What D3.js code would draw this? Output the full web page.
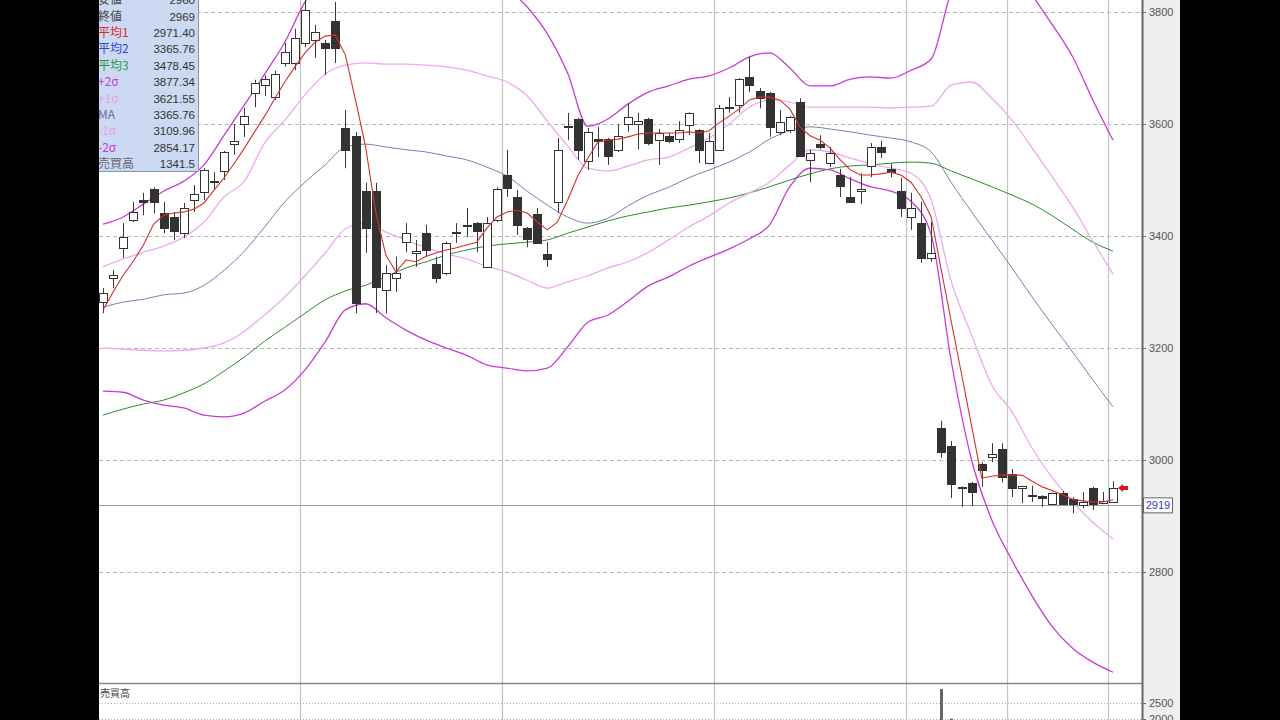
<!DOCTYPE html>
<html><head><meta charset="utf-8">
<script src="https://cdn.jsdelivr.net/npm/d3@7"></script>
<style>html,body{margin:0;padding:0;background:#000;}svg{display:block;}</style>
</head><body>
<svg id="c" width="1280" height="720"></svg>
<script>
// ---------- DATA ----------
const openP  = [3282,3325,3378,3429,3464,3484,3441,3434,3405,3464,3479,3498,3516,3564,3600,3655,3670,3648,3709,3709,3745,3750,3745,3784,3593,3578,3480,3480,3304,3325,3389,3370,3405,3350,3334,3407,3420,3423,3345,3429,3509,3470,3414,3439,3368,3461,3595,3609,3534,3573,3573,3554,3600,3600,3609,3571,3579,3573,3598,3589,3530,3554,3629,3634,3684,3659,3655,3586,3589,3639,3536,3564,3530,3509,3470,3480,3525,3559,3520,3480,3434,3423,3361,3057,3025,2952,2959,2993,3005,3020,2975,2950,2936,2936,2921,2941,2930,2920,2950,2923,2925];
const highP  = [3307,3339,3423,3461,3477,3487,3461,3443,3459,3491,3521,3514,3552,3600,3629,3679,3687,3695,3745,3770,3821,3777,3750,3818,3625,3586,3495,3495,3348,3363,3423,3393,3420,3363,3390,3423,3450,3425,3434,3487,3554,3482,3416,3450,3389,3575,3620,3611,3593,3595,3575,3600,3637,3620,3611,3591,3584,3605,3621,3591,3584,3634,3648,3682,3720,3664,3657,3625,3614,3646,3554,3580,3559,3520,3505,3512,3566,3570,3530,3504,3477,3461,3425,3070,3034,2953,2961,2996,3030,3030,2984,2954,2954,2937,2942,2945,2934,2943,2952,2943,2962];
const lowP   = [3262,3307,3361,3425,3437,3441,3405,3393,3396,3443,3464,3482,3500,3545,3577,3630,3650,3643,3702,3696,3737,3718,3688,3709,3521,3262,3370,3262,3262,3300,3371,3345,3363,3316,3330,3388,3398,3371,3343,3425,3470,3402,3380,3386,3345,3441,3571,3536,3518,3541,3527,3550,3586,3555,3562,3527,3566,3566,3580,3530,3528,3552,3620,3620,3657,3628,3577,3580,3584,3541,3496,3555,3523,3470,3460,3457,3505,3539,3505,3434,3411,3352,3354,3004,2932,2916,2918,2952,2996,2960,2934,2923,2925,2916,2920,2919,2905,2914,2911,2921,2925];
const closeP = [3298,3330,3398,3443,3461,3461,3414,3409,3450,3475,3518,3499,3550,3570,3614,3673,3680,3689,3729,3753,3804,3764,3736,3736,3554,3280,3414,3309,3334,3334,3405,3373,3375,3325,3388,3405,3419,3409,3423,3484,3486,3420,3395,3388,3359,3554,3596,3554,3586,3570,3543,3579,3612,3605,3566,3584,3570,3589,3620,3554,3570,3629,3630,3680,3670,3646,3595,3604,3612,3543,3548,3559,3548,3489,3461,3484,3559,3550,3514,3450,3450,3361,3370,3015,2958,2952,2943,2982,3011,2969,2950,2954,2938,2932,2941,2921,2921,2925,2921,2927,2950];

// 5-day average (平均1), one value per candle
const avg1 = [3268,3300,3330,3355,3384,3421,3437,3441,3443,3448,3459,3482,3504,3530,3557,3586,3614,3645,3675,3702,3727,3746,3757,3759,3723,3643,3559,3443,3366,3336,3357,3354,3364,3370,3375,3379,3384,3389,3414,3434,3443,3446,3441,3425,3411,3425,3464,3507,3539,3568,3571,3573,3577,3582,3584,3584,3584,3584,3586,3584,3588,3602,3614,3627,3643,3648,3648,3643,3627,3595,3579,3571,3557,3536,3518,3509,3509,3511,3514,3509,3496,3470,3434,3339,3246,3154,3061,2968,2971,2973,2973,2973,2962,2952,2945,2938,2930,2927,2925,2925,2929];

// bands & long averages, read every second candle
const bandIdx = d3.range(0, 101, 2);
const plus2  = [3421,3434,3457,3480,3498,3527,3580,3634,3689,3746,3818,3866,3907,3932,3946,3950,3943,3925,3902,3875,3843,3809,3761,3691,3596,3609,3636,3657,3668,3680,3686,3700,3720,3727,3700,3668,3668,3680,3684,3682,3696,3716,3836,3884,3902,3884,3830,3777,3720,3643,3571];
const plus1  = [3345,3359,3371,3382,3398,3425,3470,3498,3566,3607,3652,3689,3705,3709,3707,3707,3705,3702,3696,3686,3675,3650,3605,3561,3521,3516,3525,3536,3541,3557,3575,3600,3630,3643,3639,3630,3630,3630,3630,3629,3630,3632,3670,3675,3646,3607,3557,3505,3452,3391,3332];
const midMA  = [3273,3282,3287,3295,3298,3312,3339,3373,3416,3461,3496,3527,3559,3564,3559,3554,3550,3543,3536,3523,3507,3480,3455,3434,3423,3432,3454,3473,3487,3504,3518,3532,3550,3573,3588,3595,3591,3586,3580,3575,3568,3550,3495,3443,3393,3343,3291,3241,3193,3143,3095];
const minus1 = [3200,3198,3196,3195,3196,3200,3209,3230,3259,3291,3329,3370,3413,3423,3407,3393,3379,3368,3359,3346,3336,3321,3307,3318,3329,3343,3354,3371,3393,3416,3436,3459,3477,3496,3527,3554,3550,3539,3529,3521,3512,3464,3318,3223,3134,3086,3021,2968,2925,2889,2859];
const minus2 = [3123,3121,3107,3098,3093,3080,3077,3084,3105,3125,3161,3211,3268,3279,3254,3232,3214,3200,3187,3170,3164,3159,3164,3202,3246,3259,3284,3311,3327,3346,3362,3377,3395,3420,3488,3521,3518,3502,3488,3480,3462,3402,3175,3000,2893,2821,2757,2702,2664,2639,2621];
const avg3   = [3080,3091,3100,3107,3120,3136,3159,3184,3212,3237,3262,3286,3302,3312,3327,3343,3354,3366,3375,3382,3386,3389,3393,3405,3416,3427,3436,3443,3450,3455,3461,3468,3477,3488,3500,3511,3520,3525,3527,3530,3532,3530,3516,3502,3488,3473,3457,3436,3412,3389,3373];

// volume (only bars tall enough to show in the cut-off lower panel)
const volIdx = [83, 84];
const volVal = [2940, 2010];
const volTicks = [2500, 2000];

const priceTicks = [2800, 3000, 3200, 3400, 3600, 3800];
const sepIdx = [19.5, 39.5, 60.5, 79.5, 89.5, 99.5];
const refPrice = 2919;

const infoLabels = ["安値","終値","平均1","平均2","平均3","+2σ","+1σ","MA","-1σ","-2σ","売買高"];
const infoValues = ["2960","2969","2971.40","3365.76","3478.45","3877.34","3621.55","3365.76","3109.96","2854.17","1341.5"];
const infoColors = ["#444","#444","#e02828","#3048d0","#2a9a3a","#c83cd2","#e8a0e8","#6a6aa0","#e8a0e8","#c83cd2","#666"];

// ---------- LAYOUT ----------
const L = 99, R = 1142, T = 0, B = 683;
const svg = d3.select("#c");
const x = d3.scaleLinear().domain([0, 100]).range([103, 1113]);
const y = d3.scaleLinear().domain([2800, 3800]).range([572, 12]);
const yv = d3.scaleLinear().domain([2000, 2500]).range([719, 703]);

svg.append("rect").attr("width",1280).attr("height",720).attr("fill","#000");
svg.append("rect").attr("x",L).attr("y",0).attr("width",R-L).attr("height",720).attr("fill","#fff");
svg.append("rect").attr("x",R).attr("y",0).attr("width",1180-R).attr("height",720).attr("fill","#efefef");

const defs = svg.append("defs");
defs.append("clipPath").attr("id","mainClip").append("rect").attr("x",L).attr("y",T).attr("width",R-L).attr("height",B-T);
defs.append("clipPath").attr("id","volClip").append("rect").attr("x",L).attr("y",B+1).attr("width",R-L).attr("height",720-B);

// horizontal dashed grid
svg.append("g").selectAll("line").data(priceTicks).join("line")
  .attr("x1",L).attr("x2",R).attr("y1",d=>Math.round(y(d))+0.5).attr("y2",d=>Math.round(y(d))+0.5)
  .attr("stroke","#b8b8b8").attr("stroke-dasharray","4,3");
// vertical separators
svg.append("g").selectAll("line").data(sepIdx).join("line")
  .attr("x1",d=>Math.round(x(d))+0.5).attr("x2",d=>Math.round(x(d))+0.5).attr("y1",0).attr("y2",720)
  .attr("stroke","#c4c4c4").attr("stroke-width",1.2);

// reference price line
svg.append("line").attr("x1",L).attr("x2",R).attr("y1",Math.round(y(refPrice))+0.5).attr("y2",Math.round(y(refPrice))+0.5)
  .attr("stroke","#9a9a9a");

// lines
const main = svg.append("g").attr("clip-path","url(#mainClip)");
function bandLine(vals, color, w){
  const ln = d3.line().x((d,k)=>x(bandIdx[k])).y(d=>y(d)).curve(d3.curveMonotoneX);
  main.append("path").attr("d", ln(vals)).attr("fill","none").attr("stroke",color).attr("stroke-width",w);
}
bandLine(avg3, "#2e8b2e", 1);
bandLine(midMA, "#7c7cb0", 1);
bandLine(plus1, "#eeaaee", 1.3);
bandLine(minus1, "#eeaaee", 1.3);
bandLine(plus2, "#c63cd0", 1.3);
bandLine(minus2, "#c63cd0", 1.3);

// candles
const cg = main.append("g");
openP.forEach((o,i)=>{
  const cx = Math.round(x(i)) + 0.5;
  const c = closeP[i], h = highP[i], l = lowP[i];
  cg.append("line").attr("x1",cx).attr("x2",cx).attr("y1",y(h)).attr("y2",y(l)).attr("stroke","#3a3a3a");
  const top = Math.round(y(Math.max(o,c))), bot = Math.round(y(Math.min(o,c)));
  cg.append("rect").attr("x",cx-4).attr("y",top+0.5).attr("width",8).attr("height",Math.max(1,bot-top))
    .attr("fill", c >= o ? "#fff" : "#333").attr("stroke","#333").attr("stroke-width",1);
});

// 平均1 red line
main.append("path").attr("d", d3.line().x((d,i)=>x(i)).y(d=>y(d))(avg1))
  .attr("fill","none").attr("stroke","#d23030").attr("stroke-width",1.1);

// last price arrow
const lastY = y(closeP[closeP.length-1]);
const ax = x(closeP.length-1) + 5;
svg.append("polygon").attr("fill","#d01818")
  .attr("points",[[ax,lastY],[ax+5,lastY-4],[ax+5,lastY-2],[ax+10,lastY-2],[ax+10,lastY+2],[ax+5,lastY+2],[ax+5,lastY+4]].map(p=>p.join(",")).join(" "));

// main panel bottom / volume panel
svg.append("line").attr("x1",L).attr("x2",R).attr("y1",B+0.5).attr("y2",B+0.5).attr("stroke","#888").attr("stroke-width",1.5);
svg.append("g").selectAll("line").data(volTicks).join("line")
  .attr("x1",L).attr("x2",R).attr("y1",d=>Math.round(yv(d))+0.5).attr("y2",d=>Math.round(yv(d))+0.5)
  .attr("stroke","#aaa").attr("stroke-dasharray","1,2");
svg.append("g").attr("clip-path","url(#volClip)").selectAll("rect").data(volIdx).join("rect")
  .attr("x",d=>Math.round(x(d))-1).attr("width",3)
  .attr("y",(d,k)=>yv(volVal[k])).attr("height",(d,k)=>720-yv(volVal[k])).attr("fill","#666");
svg.append("text").attr("x",100).attr("y",697).text("売買高")
  .attr("font-family","Noto Sans CJK JP").attr("font-size",10).attr("fill","#444");

// right axis
const axG = svg.append("g").attr("transform",`translate(${R},0)`)
  .call(d3.axisRight(y).tickValues(priceTicks).tickSize(4).tickPadding(3).tickFormat(d3.format("d")));
axG.select(".domain").remove();
axG.selectAll("line").attr("stroke","#666");
axG.selectAll("text").attr("font-family","Liberation Sans, Arial").attr("font-size",11).attr("fill","#555");
const vaxG = svg.append("g").attr("transform",`translate(${R},0)`)
  .call(d3.axisRight(yv).tickValues(volTicks).tickSize(4).tickPadding(3).tickFormat(d3.format("d")));
vaxG.select(".domain").remove();
vaxG.selectAll("line").attr("stroke","#666");
vaxG.selectAll("text").attr("font-family","Liberation Sans, Arial").attr("font-size",11).attr("fill","#555");
svg.append("line").attr("x1",R+0.5).attr("x2",R+0.5).attr("y1",0).attr("y2",720).attr("stroke","#666").attr("stroke-width",2);

// reference price box
const ry = y(refPrice);
svg.append("rect").attr("x",R+1.5).attr("y",ry-7.5).attr("width",29).attr("height",15).attr("fill","#fff").attr("stroke","#666");
svg.append("text").attr("x",R+16).attr("y",ry+4).attr("text-anchor","middle").text(refPrice)
  .attr("font-family","Liberation Sans, Arial").attr("font-size",11).attr("fill","#3a3ac8");

// info box
const ib = svg.append("g");
ib.append("rect").attr("x",80).attr("y",-5).attr("width",118.5).attr("height",176.5).attr("fill","#cbd9f3").attr("stroke","#8a96a8");
infoLabels.forEach((t,k)=>{
  const cy = -0.4 + 16.4*k;
  ib.append("text").attr("x",98).attr("y",cy+4.5).text(t)
    .attr("font-family","Noto Sans CJK JP").attr("font-size",12).attr("fill",infoColors[k]);
  ib.append("text").attr("x",195).attr("y",cy+4.5).attr("text-anchor","end").text(infoValues[k])
    .attr("font-family","Liberation Sans, Arial").attr("font-size",11.5).attr("fill","#333");
});

// black side bands on top
svg.append("rect").attr("x",0).attr("y",0).attr("width",L).attr("height",720).attr("fill","#000");
svg.append("rect").attr("x",1180).attr("y",0).attr("width",100).attr("height",720).attr("fill","#000");
</script>
</body></html>
